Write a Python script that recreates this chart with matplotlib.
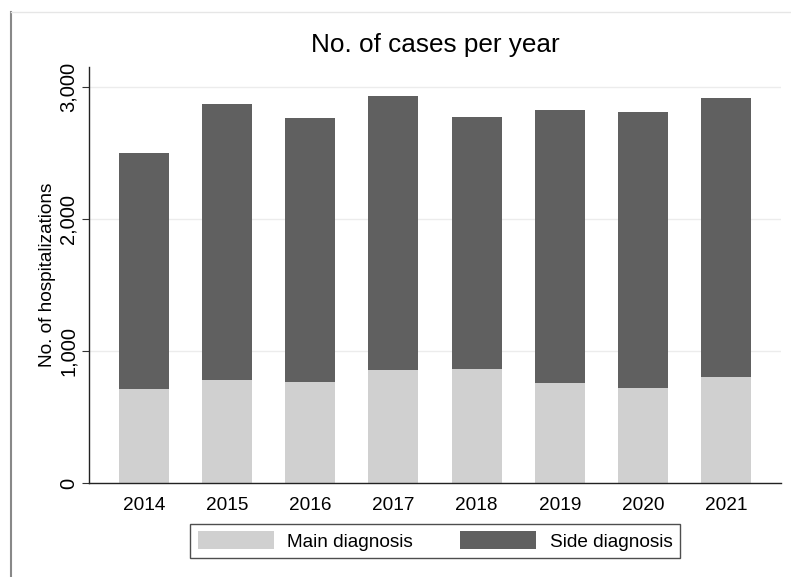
import matplotlib
matplotlib.use("Agg")
import matplotlib.pyplot as plt
import numpy as np
from matplotlib import ticker
from matplotlib.lines import Line2D

plt.rcParams['font.family'] = ['Liberation Sans', 'DejaVu Sans']

years = ["2014", "2015", "2016", "2017", "2018", "2019", "2020", "2021"]
main_diag = [712, 778, 763, 859, 864, 760, 720, 801]
total_cases = [2502, 2873, 2765, 2934, 2775, 2828, 2808, 2914]
side_diag = [t - m for t, m in zip(total_cases, main_diag)]

light = "#d0d0d0"
dark = "#606060"

fig = plt.figure(figsize=(7.91, 5.77), dpi=100)
ax = fig.add_axes([89 / 791, 1 - 483 / 577, (781 - 89) / 791, (483 - 67) / 577])

x = np.arange(len(years))
ax.bar(x, main_diag, width=0.6, color=light, label="Main diagnosis", zorder=2)
ax.bar(x, side_diag, width=0.6, bottom=main_diag, color=dark, label="Side diagnosis", zorder=2)

ax.set_xlim(-0.662, 7.662)
ax.set_ylim(0, 3150)
ax.set_xticks(x)
ax.set_xticklabels(years, fontsize=13.7)
ax.tick_params(axis='x', length=0, pad=10)
ax.set_yticks([0, 1000, 2000, 3000])
ax.yaxis.set_major_formatter(ticker.FuncFormatter(lambda v, p: f"{int(v):,}"))
ax.tick_params(axis='y', labelsize=14.5, length=5, width=0.8, color="#333333", pad=3)
for lbl in ax.get_yticklabels():
    lbl.set_rotation(90)
    lbl.set_va('center')
ax.grid(axis='y', color="#ececec", linewidth=1, zorder=0)
ax.set_axisbelow(True)

for side in ['top', 'right']:
    ax.spines[side].set_visible(False)
for side in ['left', 'bottom']:
    ax.spines[side].set_color("#222222")
    ax.spines[side].set_linewidth(1.0)

ax.set_ylabel("No. of hospitalizations", fontsize=13.7, labelpad=2)
fig.text(435 / 791, 1 - 45 / 577, "No. of cases per year", fontsize=18.8,
         ha='center', va='center')

leg = ax.legend(loc='center', bbox_to_anchor=(0.5, (483 - 541) / (483 - 67)), ncol=2,
                frameon=True, fancybox=False, fontsize=13.7,
                handlelength=4.0, handleheight=1.05, columnspacing=2.5,
                handletextpad=0.7, borderpad=0.4)
leg.get_frame().set_edgecolor("#222222")
leg.get_frame().set_linewidth(1.0)

# outer graph-region frame
fig.add_artist(Line2D([11 / 791, 11 / 791], [0, 1 - 12 / 577], color="#888888", linewidth=1.5))
fig.add_artist(Line2D([11 / 791, 1], [1 - 12 / 577, 1 - 12 / 577], color="#e6e6e6", linewidth=1))

fig.savefig("out.png", dpi=100, facecolor="white")
